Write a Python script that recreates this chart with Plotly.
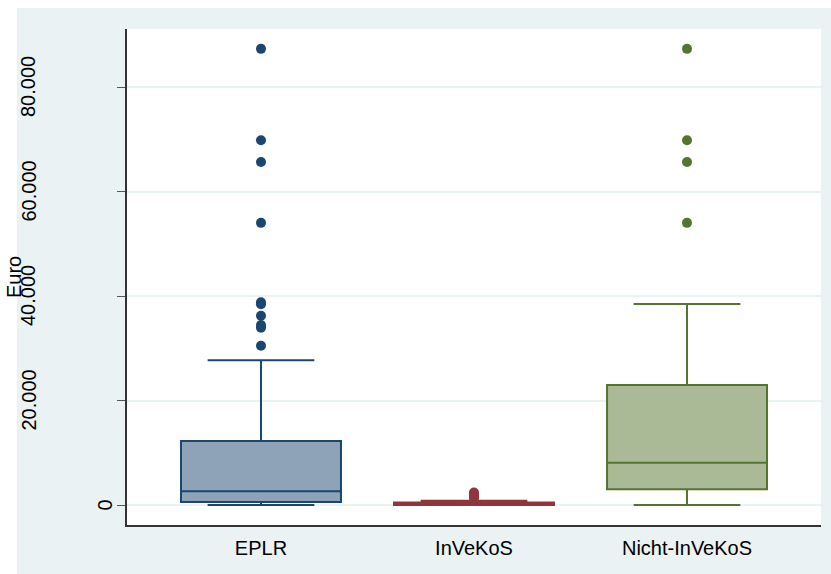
import plotly.graph_objects as go

categories = ["EPLR", "InVeKoS", "Nicht-InVeKoS"]
q1 = [570, 0, 3000]
median = [2620, 200, 8100]
q3 = [12250, 500, 22970]
lower_whisker = [0, 0, 0]
upper_whisker = [27700, 800, 38470]
outliers = [
    [30490, 33930, 34450, 36230, 38410, 38800, 54000, 65650, 69800, 87300],
    [1300, 1700, 2100, 2400],
    [54000, 65650, 69800, 87300],
]
line_colors = ["#1a476f", "#90353b", "#55752f"]
fill_colors = ["#8ea3b8", "#c79a9d", "#aab996"]
ytick_vals = [0, 20000, 40000, 60000, 80000]
ytick_text = ["0", "20.000", "40.000", "60.000", "80.000"]
y_title = "Euro"

W, H = 831, 574
L, R, T, B = 127, 10, 29, 49
pw, ph = W - L - R, H - T - B
def px_x(p):
    return (p - L) / pw
def px_y(p):
    return (H - B - p) / ph

FONT = "Liberation Sans, Arial, sans-serif"
BG = "#eaf2f3"

fig = go.Figure()
for i, cat in enumerate(categories):
    fig.add_trace(go.Box(
        x=[cat], q1=[q1[i]], median=[median[i]], q3=[q3[i]],
        lowerfence=[lower_whisker[i]], upperfence=[upper_whisker[i]],
        boxpoints=False, width=0.751, whiskerwidth=0.667,
        fillcolor=fill_colors[i], line=dict(color=line_colors[i], width=2),
        showlegend=False, hoverinfo="skip",
    ))
    fig.add_trace(go.Scatter(
        x=[cat] * len(outliers[i]), y=outliers[i], mode="markers",
        marker=dict(color=line_colors[i], size=10, line=dict(width=0)),
        showlegend=False, hoverinfo="skip",
    ))

annotations = []
for v, t in zip(ytick_vals, ytick_text):
    xc = 104.5 if t == "0" else 28
    annotations.append(dict(
        x=px_x(xc), xref="paper", y=v, yref="y", text=t, textangle=-90,
        showarrow=False, xanchor="center", yanchor="middle",
        font=dict(family=FONT, size=20, color="#000000"),
    ))
annotations.append(dict(
    x=px_x(14), xref="paper", y=px_y(277), yref="paper", text=y_title, textangle=-90,
    showarrow=False, xanchor="center", yanchor="middle",
    font=dict(family=FONT, size=20, color="#000000"),
))

shapes = [
    dict(type="rect", xref="paper", yref="paper", x0=-0.3, x1=px_x(17), y0=-0.3, y1=1.3,
         fillcolor="white", line=dict(width=0), layer="below"),
    dict(type="rect", xref="paper", yref="paper", x0=-0.3, x1=1.3, y0=px_y(8), y1=1.3,
         fillcolor="white", line=dict(width=0), layer="below"),
]

fig.update_layout(
    width=W, height=H,
    margin=dict(l=L, r=R, t=T, b=B, pad=0),
    paper_bgcolor=BG, plot_bgcolor="white",
    boxmode="overlay",
    font=dict(family=FONT, size=20, color="#000000"),
    annotations=annotations, shapes=shapes,
    xaxis=dict(
        type="category", range=[-0.629, 2.629], showgrid=False, zeroline=False,
        showline=True, linecolor="#333333", linewidth=1.5,
        ticks="outside", ticklen=4, tickcolor="rgba(0,0,0,0)",
        tickfont=dict(family=FONT, size=20, color="#000000"),
    ),
    yaxis=dict(
        range=[-3828, 91100], tickvals=ytick_vals, showticklabels=False,
        ticks="outside", ticklen=8, tickcolor="#555555", tickwidth=1,
        showgrid=True, gridcolor=BG, gridwidth=2, zeroline=False,
        showline=True, linecolor="#333333", linewidth=1.5,
    ),
)

fig.write_html("out.html")
